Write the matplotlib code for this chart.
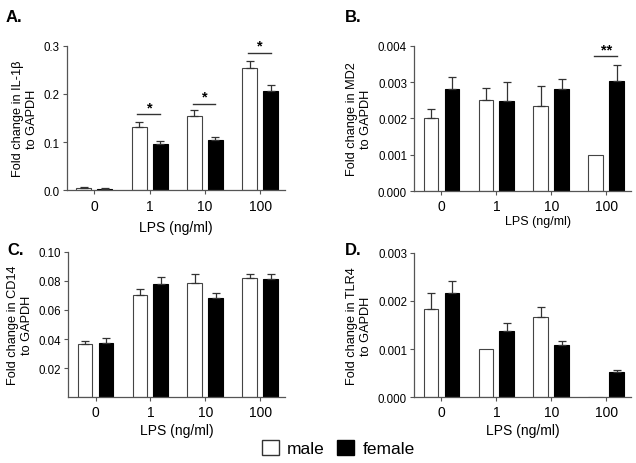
import numpy as np
import matplotlib
matplotlib.use("Agg")
import matplotlib.pyplot as plt
from matplotlib.patches import Patch

plt.rcParams["font.family"] = ["Liberation Sans", "DejaVu Sans"]

# Data
lps_labels = ["0", "1", "10", "100"]

il1b_male = [0.005, 0.132, 0.154, 0.254]
il1b_male_err = [0.001, 0.010, 0.012, 0.014]
il1b_female = [0.003, 0.096, 0.105, 0.206]
il1b_female_err = [0.0008, 0.006, 0.006, 0.012]

md2_male = [0.00202, 0.00252, 0.00234, 0.00100]
md2_male_err = [0.00025, 0.00033, 0.00055, 0.0]
md2_female = [0.00282, 0.00248, 0.00282, 0.00302]
md2_female_err = [0.00033, 0.00053, 0.00027, 0.00046]

cd14_male = [0.0366, 0.0705, 0.0789, 0.0820]
cd14_male_err = [0.0020, 0.0038, 0.0056, 0.0030]
cd14_female = [0.0375, 0.0777, 0.0680, 0.0810]
cd14_female_err = [0.0035, 0.0053, 0.0040, 0.0038]

tlr4_male = [0.00184, 0.00101, 0.00167, 0.0]
tlr4_male_err = [0.00032, 0.0, 0.00021, 0.0]
tlr4_female = [0.00216, 0.00137, 0.00108, 0.00053]
tlr4_female_err = [0.00025, 0.00017, 0.00008, 0.00004]

# significance marks: (group index, height, label)
il1b_sig = [(1, 0.158, "*"), (2, 0.180, "*"), (3, 0.286, "*")]
md2_sig = [(3, 0.00372, "**")]

spine_col = "#555555"
offset = 0.19
width = 0.27

fig = plt.figure(figsize=(6.36, 4.64), dpi=100)


def bar_panel(rect, male, male_err, female, female_err, ylim, yticks, fmt,
              ylabel, sig=None):
    ax = fig.add_axes(rect)
    x = np.arange(len(lps_labels))
    ax.bar(x - offset, male, width, color="white", edgecolor="#444444",
           linewidth=0.8, zorder=2)
    ax.bar(x + offset, female, width, color="black", edgecolor="black",
           linewidth=0.8, zorder=2)
    for xs, vals, errs in [(x - offset, male, male_err), (x + offset, female, female_err)]:
        for xi, v, e in zip(xs, vals, errs):
            if e > 0:
                ax.errorbar(xi, v, yerr=[[0], [e]], fmt="none", ecolor="#333333",
                            elinewidth=0.9, capsize=2.6, capthick=0.9, zorder=3)
    ax.set_xlim(-0.5, 3.45)
    ax.set_ylim(*ylim)
    ax.set_yticks(yticks)
    ax.set_yticklabels([fmt.format(t) for t in yticks], fontsize=8.3)
    ax.set_xticks(x)
    ax.set_xticklabels(lps_labels, fontsize=10)
    for s in ["top", "right"]:
        ax.spines[s].set_visible(False)
    for s in ["left", "bottom"]:
        ax.spines[s].set_color(spine_col)
        ax.spines[s].set_linewidth(0.9)
    ax.tick_params(axis="both", direction="out", length=3, width=0.8,
                   color=spine_col, pad=2)
    ax.tick_params(axis="x", pad=3)
    ax.set_ylabel(ylabel, fontsize=9.2, linespacing=1.25, labelpad=4)
    if sig:
        for gi, h, lab in sig:
            ax.plot([gi - 0.22, gi + offset], [h, h], color="#333333", lw=1.0,
                    clip_on=False)
            ax.text(gi, h, lab, ha="center", va="bottom", fontsize=10.5,
                    fontweight="bold")
    return ax


axA = bar_panel([0.105, 0.588, 0.343, 0.311], il1b_male, il1b_male_err,
                il1b_female, il1b_female_err, (0, 0.3), [0.0, 0.1, 0.2, 0.3],
                "{:.1f}", "Fold change in IL-1β\nto GAPDH", il1b_sig)
axB = bar_panel([0.651, 0.586, 0.341, 0.313], md2_male, md2_male_err,
                md2_female, md2_female_err, (0, 0.004),
                [0.0, 0.001, 0.002, 0.003, 0.004], "{:.3f}",
                "Fold change in MD2\nto GAPDH", md2_sig)
axC = bar_panel([0.107, 0.142, 0.341, 0.313], cd14_male, cd14_male_err,
                cd14_female, cd14_female_err, (0, 0.10),
                [0.02, 0.04, 0.06, 0.08, 0.10], "{:.2f}",
                "Fold change in CD14\nto GAPDH")
axD = bar_panel([0.651, 0.142, 0.341, 0.311], tlr4_male, tlr4_male_err,
                tlr4_female, tlr4_female_err, (0, 0.003),
                [0.0, 0.001, 0.002, 0.003], "{:.3f}",
                "Fold change in TLR4\nto GAPDH")

# x-axis titles
fig.text(176 / 636, 1 - 228 / 464, "LPS (ng/ml)", ha="center", va="center", fontsize=10)
fig.text(538 / 636, 1 - 222 / 464, "LPS (ng/ml)", ha="center", va="center", fontsize=9)
fig.text(177 / 636, 1 - 431 / 464, "LPS (ng/ml)", ha="center", va="center", fontsize=10)
fig.text(523 / 636, 1 - 431 / 464, "LPS (ng/ml)", ha="center", va="center", fontsize=10)

# panel letters
for lab, px, py in [("A.", 6, 17), ("B.", 345, 17), ("C.", 7, 251), ("D.", 345, 251)]:
    fig.text(px / 636, 1 - py / 464, lab, ha="left", va="center", fontsize=12,
             fontweight="bold")

handles = [Patch(facecolor="white", edgecolor="#333333", linewidth=1.0),
           Patch(facecolor="black", edgecolor="black", linewidth=1.0)]
fig.legend(handles, ["male", "female"], loc="center", bbox_to_anchor=(0.532, 0.032),
           ncol=2, frameon=False, fontsize=12.5, handlelength=0.95,
           handleheight=0.95, handletextpad=0.5, columnspacing=0.7)

fig.savefig("out.png", dpi=100)
